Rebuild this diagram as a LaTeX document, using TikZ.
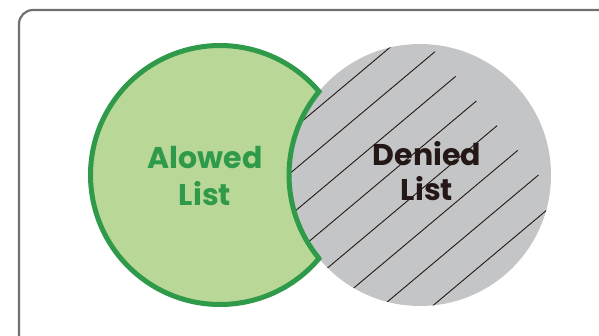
\documentclass[tikz,border=0pt]{standalone}
\usepackage{fontspec}
\usetikzlibrary{calc}
\setmainfont{Poppins}
\definecolor{leafline}{RGB}{46,154,74}
\definecolor{leaffill}{RGB}{185,216,152}
\definecolor{stonefill}{RGB}{196,197,199}
\definecolor{inkdark}{RGB}{35,24,21}
\definecolor{frameline}{RGB}{112,112,112}
\tikzset{
  frame/.style={draw=frameline, line width=2.2pt, rounded corners=14pt},
  label/.style={font=\fontsize{30}{36}\selectfont\bfseries, inner sep=0pt, anchor=base},
  hatch/.style={draw=inkdark, line width=0.9pt}
}
\begin{document}
\begin{tikzpicture}[x=1pt, y=-1pt]
        \useasboundingbox (0,0) rectangle (599,335);
        \draw[frame] (19,10) rectangle (640,360);

        \coordinate (gc) at (220,175);
        \coordinate (sc) at (420,175);

        \fill[stonefill] (sc) circle[radius=131];
        \begin{scope}
          \clip (sc) circle[radius=131];
          \foreach \c in {287,319.2,...,513}
            \draw[hatch] ({\c*sin(40)+300*cos(40)},{\c*cos(40)-300*sin(40)})
                      -- ({\c*sin(40)-300*cos(40)},{\c*cos(40)+300*sin(40)});
        \end{scope}

        \draw[leafline, fill=leaffill, line width=5pt]
          ($(gc)+(40.13:129.5)$) arc[start angle=40.13, end angle=319.87, radius=129.5]
          arc[start angle=219.57, end angle=140.43, radius=131] -- cycle;

        \node[label, text=leafline] (allow) at (205,168) {Alowed};
        \node[label, text=leafline] (allowl) at (205,205) {List};
        \node[label, text=inkdark] (deny) at (427,165) {Denied};
        \node[label, text=inkdark] (denyl) at (427,200) {List};
    \end{tikzpicture}
\end{document}
